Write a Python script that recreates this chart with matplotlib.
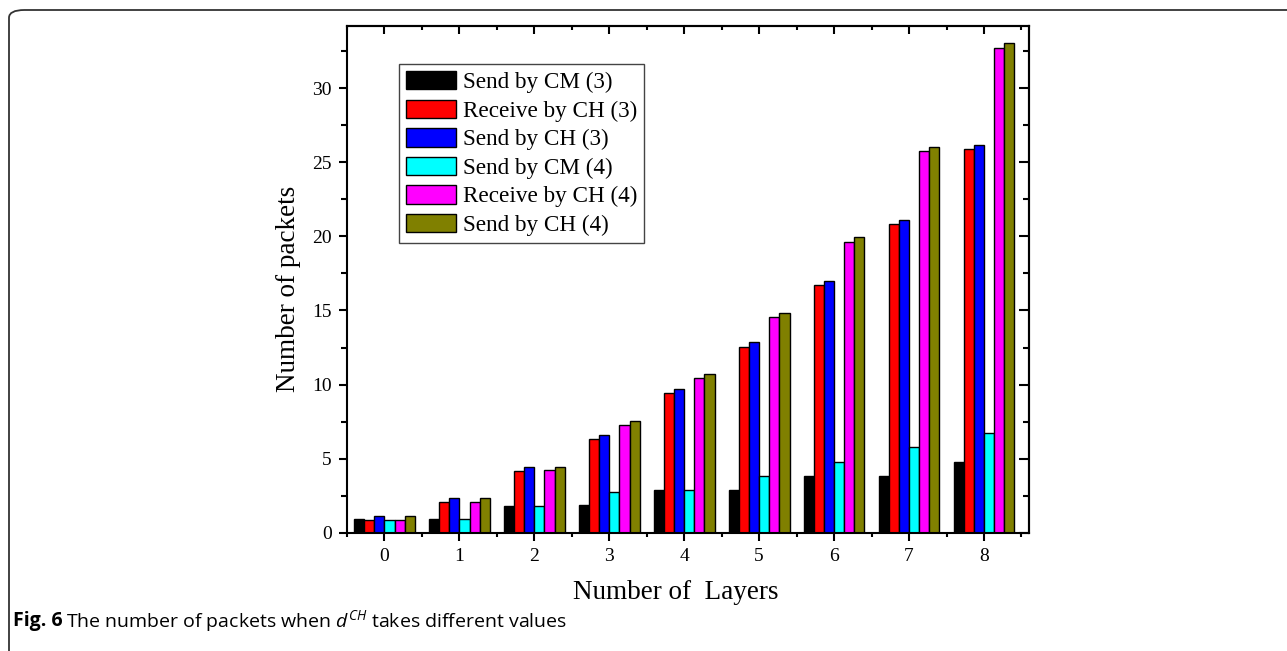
import numpy as np
import matplotlib
matplotlib.use("Agg")
import matplotlib.pyplot as plt
from matplotlib.patches import FancyBboxPatch

# values
layers = [0, 1, 2, 3, 4, 5, 6, 7, 8]
send_cm3 = [0.9, 0.9, 1.8, 1.9, 2.85, 2.85, 3.85, 3.85, 4.8]
recv_ch3 = [0.85, 2.05, 4.15, 6.3, 9.4, 12.55, 16.7, 20.85, 25.9]
send_ch3 = [1.15, 2.35, 4.45, 6.6, 9.7, 12.85, 17.0, 21.1, 26.2]
send_cm4 = [0.85, 0.9, 1.8, 2.75, 2.85, 3.85, 4.8, 5.8, 6.75]
recv_ch4 = [0.85, 2.05, 4.2, 7.25, 10.45, 14.55, 19.65, 25.75, 32.75]
send_ch4 = [1.15, 2.35, 4.45, 7.55, 10.7, 14.85, 19.95, 26.05, 33.05]

series_labels = ["Send by CM (3)", "Receive by CH (3)", "Send by CH (3)",
                 "Send by CM (4)", "Receive by CH (4)", "Send by CH (4)"]
series_colors = ["#000000", "#ff0000", "#0000ff", "#00ffff", "#ff00ff", "#808000"]


def main():
    plt.rcParams['font.family'] = ['Liberation Serif', 'DejaVu Serif']
    plt.rcParams['mathtext.fontset'] = 'custom'
    plt.rcParams['mathtext.rm'] = 'Open Sans'
    plt.rcParams['mathtext.it'] = 'Open Sans:italic'

    fig = plt.figure(figsize=(12.87, 6.51), dpi=100)
    ax = fig.add_axes([0.2696, 0.1817, 0.5299, 0.7783])

    series = [send_cm3, recv_ch3, send_ch3, send_cm4, recv_ch4, send_ch4]
    x = np.array(layers, dtype=float)
    w = 0.135
    for i, vals in enumerate(series):
        ax.bar(x + (i - 2.5) * w, vals, width=w, color=series_colors[i],
               edgecolor='black', linewidth=1.0, label=series_labels[i])

    ax.set_xlim(-0.5, 8.6)
    ax.set_ylim(0, 34.2)
    ax.set_xticks(layers)
    ax.set_xticks(np.arange(-0.5, 9, 1), minor=True)
    ax.set_yticks(np.arange(0, 31, 5))
    ax.set_yticks(np.arange(2.5, 34, 5), minor=True)
    for s in ax.spines.values():
        s.set_linewidth(1.5)
    ax.tick_params(which='major', direction='out', length=6, width=1.5,
                   labelsize=14, pad=5)
    ax.tick_params(axis='x', which='minor', direction='out', length=3, width=1.5)
    ax.tick_params(axis='y', which='minor', direction='out', length=4, width=1.5)

    # inward ticks on top and right
    top = ax.secondary_xaxis('top')
    top.set_xticks(layers)
    top.set_xticks(np.arange(-0.5, 9, 1), minor=True)
    top.tick_params(which='major', direction='in', length=6, width=1.5, labeltop=False)
    top.tick_params(which='minor', direction='in', length=3, width=1.5)
    top.spines['top'].set_linewidth(1.5)
    right = ax.secondary_yaxis('right')
    right.set_yticks(np.arange(0, 31, 5))
    right.set_yticks(np.arange(2.5, 34, 5), minor=True)
    right.tick_params(which='major', direction='in', length=7, width=1.5, labelright=False)
    right.tick_params(which='minor', direction='in', length=4, width=1.5)
    right.spines['right'].set_linewidth(1.5)

    ax.set_xlabel('Number of  Layers', fontsize=19.5, labelpad=11)
    ax.set_ylabel('Number of packets', fontsize=19.5, labelpad=8)
    ax.xaxis.label.set_x(0.482)
    ax.yaxis.label.set_y(0.482)

    leg = ax.legend(loc='upper left', bbox_to_anchor=(0.076, 0.925),
                    borderaxespad=0, fontsize=16.7, fancybox=False,
                    handlelength=2.15, handleheight=0.85, handletextpad=0.3,
                    labelspacing=0.27, borderpad=0.3, framealpha=1)
    leg.get_frame().set_edgecolor('#444444')
    leg.get_frame().set_linewidth(1.0)

    # outer rounded frame of the figure panel
    frame = FancyBboxPatch((9 / 1287, -10 / 651), 1.1, 1.0,
                           boxstyle='round,pad=0,rounding_size=0.012',
                           transform=fig.transFigure, fill=False,
                           edgecolor='#333333', linewidth=1.3)
    fig.patches.append(frame)

    fig.text(13 / 1287, 1 - 621 / 651, 'Fig. 6', fontsize=14, fontweight='bold',
             family=['Open Sans', 'DejaVu Sans'], va='center', ha='left')
    fig.text(66 / 1287, 1 - 621 / 651,
             'The number of packets when $d^{CH}$ takes different values',
             fontsize=14, family=['Open Sans', 'DejaVu Sans'], va='center', ha='left')

    plt.savefig('out.png', dpi=100)


if __name__ == "__main__":
    main()
